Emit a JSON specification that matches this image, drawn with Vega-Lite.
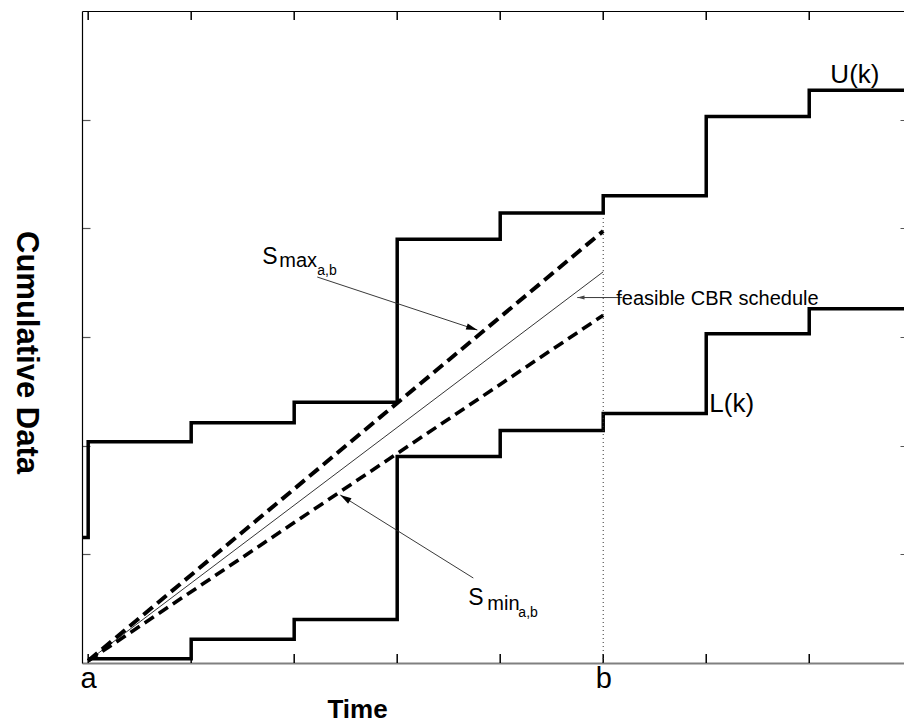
{
  "$schema": "https://vega.github.io/schema/vega-lite/v6.json",
  "width": 822,
  "height": 652,
  "autosize": {"type": "none"},
  "padding": {"left": 82, "top": 11, "right": 0, "bottom": 64},
  "background": "white",
  "config": {"view": {"stroke": null}, "font": "Liberation Sans", "axis": {"grid": false}},
  "datasets": {
    "upper": [
      {"t": -0.06, "v": 1.155}, {"t": 0, "v": 2.035}, {"t": 1, "v": 2.21}, {"t": 2, "v": 2.40},
      {"t": 3, "v": 3.90}, {"t": 4, "v": 4.14}, {"t": 5, "v": 4.30}, {"t": 6, "v": 5.03},
      {"t": 7, "v": 5.27}, {"t": 7.92, "v": 5.27}
    ],
    "lower": [
      {"t": 0, "v": 0.04}, {"t": 1, "v": 0.218}, {"t": 2, "v": 0.40}, {"t": 3, "v": 1.90},
      {"t": 4, "v": 2.14}, {"t": 5, "v": 2.296}, {"t": 6, "v": 3.03}, {"t": 7, "v": 3.26},
      {"t": 7.92, "v": 3.26}
    ],
    "smax": [{"t": 0, "v": 0.02}, {"t": 5, "v": 3.975}],
    "smin": [{"t": 0, "v": 0.02}, {"t": 5, "v": 3.20}],
    "cbr": [{"t": 0, "v": 0.02}, {"t": 5, "v": 3.60}],
    "xticks": [{"t": 0, "lo": 0, "hi": 6}, {"t": 1, "lo": 0, "hi": 6}, {"t": 2, "lo": 0, "hi": 6}, {"t": 3, "lo": 0, "hi": 6}, {"t": 4, "lo": 0, "hi": 6}, {"t": 5, "lo": 0, "hi": 6}, {"t": 6, "lo": 0, "hi": 6}, {"t": 7, "lo": 0, "hi": 6}],
    "arrows": [
      {"t": 2.224, "v": 3.552, "t2": 3.778, "v2": 3.064},
      {"t": 3.739, "v": 0.782, "t2": 2.448, "v2": 1.546},
      {"t": 5.186, "v": 3.363, "t2": 4.748, "v2": 3.363}
    ]
  },
  "layer": [
    {
      "data": {"name": "upper"},
      "mark": {"type": "line", "interpolate": "step-after", "color": "black", "strokeWidth": 3.5, "clip": true},
      "encoding": {
        "x": {"field": "t", "type": "quantitative", "scale": {"domain": [-0.06, 7.92], "nice": false, "zero": false},
          "axis": {"orient": "bottom", "values": [0, 1, 2, 3, 4, 5, 6, 7], "ticks": false,
            "domainColor": "#808080", "domainWidth": 2,
            "labelExpr": "datum.value == 0 ? 'a' : (datum.value == 5 ? 'b' : '')",
            "labelFontSize": 29, "labelPadding": 1, "labelColor": "black", "labelFlush": false, "labelOverlap": false,
            "title": "Time", "titleFontSize": 26, "titleFontWeight": "bold", "titleColor": "black",
            "titleX": 275, "titleY": 54, "titleBaseline": "alphabetic", "titleAlign": "center"}},
        "y": {"field": "v", "type": "quantitative", "scale": {"domain": [0, 6], "nice": false, "zero": false},
          "axis": {"orient": "left", "values": [1, 2, 3, 4, 5], "tickSize": -8, "tickColor": "#555", "tickWidth": 1.2, "labels": false,
            "domainColor": "black", "domainWidth": 1.2,
            "title": "Cumulative Data", "titleAngle": 90, "titleFontSize": 31, "titleFontWeight": "bold", "titleColor": "black",
            "titleX": -57, "titleY": 341, "titleAlign": "center", "titleBaseline": "middle"}}
      }
    },
    {
      "data": {"name": "lower"},
      "mark": {"type": "line", "interpolate": "step-after", "color": "black", "strokeWidth": 3.5, "clip": true},
      "encoding": {
        "x": {"field": "t", "type": "quantitative", "scale": {"domain": [-0.06, 7.92], "nice": false, "zero": false},
          "axis": {"orient": "top", "values": [0, 1, 2, 3, 4, 5, 6, 7], "ticks": false,
            "labels": false, "title": null, "domainColor": "black", "domainWidth": 1.2}},
        "y": {"field": "v", "type": "quantitative", "scale": {"domain": [0, 6], "nice": false, "zero": false},
          "axis": {"orient": "right", "values": [1, 2, 3, 4, 5], "tickSize": -4, "tickColor": "#555",
            "labels": false, "title": null, "domain": false}}
      }
    },
    {
      "data": {"name": "xticks"},
      "mark": {"type": "tick", "orient": "vertical", "color": "#000", "size": 9, "thickness": 1.5, "yOffset": -4.5, "opacity": 1},
      "encoding": {
        "x": {"field": "t", "type": "quantitative", "scale": {"domain": [-0.06, 7.92], "nice": false, "zero": false}, "axis": null},
        "y": {"field": "lo", "type": "quantitative", "scale": {"domain": [0, 6], "nice": false, "zero": false}, "axis": null}
      }
    },
    {
      "data": {"name": "xticks"},
      "mark": {"type": "tick", "orient": "vertical", "color": "#000", "size": 9, "thickness": 1.5, "yOffset": 4.5, "opacity": 1},
      "encoding": {
        "x": {"field": "t", "type": "quantitative", "scale": {"domain": [-0.06, 7.92], "nice": false, "zero": false}, "axis": null},
        "y": {"field": "hi", "type": "quantitative", "scale": {"domain": [0, 6], "nice": false, "zero": false}, "axis": null}
      }
    },
    {
      "data": {"name": "smax"},
      "mark": {"type": "line", "color": "black", "strokeWidth": 4, "strokeDash": [12, 6]},
      "encoding": {
        "x": {"field": "t", "type": "quantitative", "scale": {"domain": [-0.06, 7.92], "nice": false, "zero": false}, "axis": null},
        "y": {"field": "v", "type": "quantitative", "scale": {"domain": [0, 6], "nice": false, "zero": false}, "axis": null}
      }
    },
    {
      "data": {"name": "smin"},
      "mark": {"type": "line", "color": "black", "strokeWidth": 3.6, "strokeDash": [11, 6]},
      "encoding": {
        "x": {"field": "t", "type": "quantitative", "scale": {"domain": [-0.06, 7.92], "nice": false, "zero": false}, "axis": null},
        "y": {"field": "v", "type": "quantitative", "scale": {"domain": [0, 6], "nice": false, "zero": false}, "axis": null}
      }
    },
    {
      "data": {"name": "cbr"},
      "mark": {"type": "line", "color": "black", "strokeWidth": 0.8},
      "encoding": {
        "x": {"field": "t", "type": "quantitative", "scale": {"domain": [-0.06, 7.92], "nice": false, "zero": false}, "axis": null},
        "y": {"field": "v", "type": "quantitative", "scale": {"domain": [0, 6], "nice": false, "zero": false}, "axis": null}
      }
    },
    {
      "data": {"values": [{"t": 5, "v": 0, "v2": 4.14}]},
      "mark": {"type": "rule", "color": "#333", "strokeWidth": 1, "strokeDash": [1, 3]},
      "encoding": {
        "x": {"field": "t", "type": "quantitative", "scale": {"domain": [-0.06, 7.92], "nice": false, "zero": false}, "axis": null},
        "y": {"field": "v", "type": "quantitative", "scale": {"domain": [0, 6], "nice": false, "zero": false}, "axis": null},
        "y2": {"field": "v2"}
      }
    },
    {
      "data": {"name": "arrows"},
      "mark": {"type": "rule", "color": "#222", "strokeWidth": 0.9},
      "encoding": {
        "x": {"field": "t", "type": "quantitative", "scale": {"domain": [-0.06, 7.92], "nice": false, "zero": false}, "axis": null},
        "y": {"field": "v", "type": "quantitative", "scale": {"domain": [0, 6], "nice": false, "zero": false}, "axis": null},
        "x2": {"field": "t2"},
        "y2": {"field": "v2"}
      }
    },
    {
      "data": {"values": [{"t": 3.714, "v": 3.085}]},
      "mark": {"type": "point", "shape": "M0,-1L0.45,0.6L-0.45,0.6Z", "filled": true, "color": "black", "size": 200, "angle": 108.5, "opacity": 1},
      "encoding": {
        "x": {"field": "t", "type": "quantitative", "scale": {"domain": [-0.06, 7.92], "nice": false, "zero": false}, "axis": null},
        "y": {"field": "v", "type": "quantitative", "scale": {"domain": [0, 6], "nice": false, "zero": false}, "axis": null}
      }
    },
    {
      "data": {"values": [{"t": 2.505, "v": 1.512}]},
      "mark": {"type": "point", "shape": "M0,-1L0.45,0.6L-0.45,0.6Z", "filled": true, "color": "black", "size": 200, "angle": 302, "opacity": 1},
      "encoding": {
        "x": {"field": "t", "type": "quantitative", "scale": {"domain": [-0.06, 7.92], "nice": false, "zero": false}, "axis": null},
        "y": {"field": "v", "type": "quantitative", "scale": {"domain": [0, 6], "nice": false, "zero": false}, "axis": null}
      }
    },
    {
      "data": {"values": [{"t": 4.792, "v": 3.363}]},
      "mark": {"type": "point", "shape": "M0,-1L0.45,0.6L-0.45,0.6Z", "filled": true, "color": "#444", "size": 80, "angle": 270, "opacity": 1},
      "encoding": {
        "x": {"field": "t", "type": "quantitative", "scale": {"domain": [-0.06, 7.92], "nice": false, "zero": false}, "axis": null},
        "y": {"field": "v", "type": "quantitative", "scale": {"domain": [0, 6], "nice": false, "zero": false}, "axis": null}
      }
    },
    {
      "data": {"values": [{"t": 7.205, "v": 5.337, "label": "U(k)"}, {"t": 6.030, "v": 2.313, "label": "L(k)"}]},
      "mark": {"type": "text", "align": "left", "baseline": "alphabetic", "fontSize": 26, "color": "black"},
      "encoding": {
        "x": {"field": "t", "type": "quantitative", "scale": {"domain": [-0.06, 7.92], "nice": false, "zero": false}, "axis": null},
        "y": {"field": "v", "type": "quantitative", "scale": {"domain": [0, 6], "nice": false, "zero": false}, "axis": null},
        "text": {"field": "label"}
      }
    },
    {
      "data": {"values": [{"t": 1.690, "v": 3.675, "label": "S"}, {"t": 3.690, "v": 0.534, "label": "S"}]},
      "mark": {"type": "text", "align": "left", "baseline": "alphabetic", "fontSize": 23, "color": "black"},
      "encoding": {
        "x": {"field": "t", "type": "quantitative", "scale": {"domain": [-0.06, 7.92], "nice": false, "zero": false}, "axis": null},
        "y": {"field": "v", "type": "quantitative", "scale": {"domain": [0, 6], "nice": false, "zero": false}, "axis": null},
        "text": {"field": "label"}
      }
    },
    {
      "data": {"values": [{"t": 1.855, "v": 3.644, "label": "max"}, {"t": 3.875, "v": 0.488, "label": "min"}, {"t": 5.127, "v": 3.294, "label": "feasible CBR schedule"}]},
      "mark": {"type": "text", "align": "left", "baseline": "alphabetic", "fontSize": 20, "color": "black"},
      "encoding": {
        "x": {"field": "t", "type": "quantitative", "scale": {"domain": [-0.06, 7.92], "nice": false, "zero": false}, "axis": null},
        "y": {"field": "v", "type": "quantitative", "scale": {"domain": [0, 6], "nice": false, "zero": false}, "axis": null},
        "text": {"field": "label"}
      }
    },
    {
      "data": {"values": [{"t": 2.224, "v": 3.570, "label": "a,b"}, {"t": 4.176, "v": 0.423, "label": "a,b"}]},
      "mark": {"type": "text", "align": "left", "baseline": "alphabetic", "fontSize": 14, "color": "black"},
      "encoding": {
        "x": {"field": "t", "type": "quantitative", "scale": {"domain": [-0.06, 7.92], "nice": false, "zero": false}, "axis": null},
        "y": {"field": "v", "type": "quantitative", "scale": {"domain": [0, 6], "nice": false, "zero": false}, "axis": null},
        "text": {"field": "label"}
      }
    }
  ],
  "resolve": {"axis": {"x": "independent", "y": "independent"}}
}
